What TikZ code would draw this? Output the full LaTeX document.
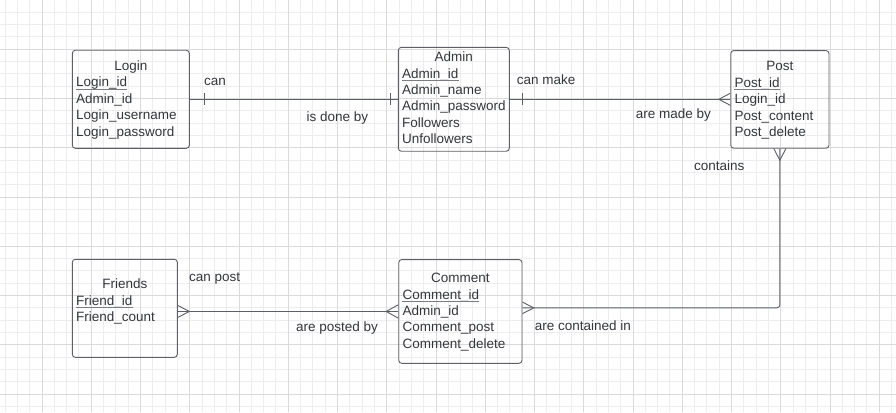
\documentclass[tikz,border=0pt]{standalone}
\usepackage{fontspec}
\setmainfont{Liberation Sans}
\usetikzlibrary{calc}
\definecolor{minorc}{HTML}{EDEDED}
\definecolor{majorc}{HTML}{DADADA}
\definecolor{boxc}{HTML}{5E6066}
\definecolor{linec}{HTML}{5B5F66}
\definecolor{txtc}{HTML}{33363B}
\definecolor{ulc}{HTML}{7A7D82}
\newcommand\ft{\fontsize{13.5}{16}\selectfont}
\tikzset{
  minorg/.style={draw=minorc, line width=1pt},
  majorg/.style={draw=majorc, line width=1pt},
  ent/.style={draw=boxc, line width=0.9pt, rounded corners=3pt, inner sep=0pt, fill=none},
  ttl/.style={anchor=base, inner sep=0pt, text=txtc, font=\ft},
  att/.style={anchor=base west, inner sep=0pt, text=txtc, font=\ft},
  lbl/.style={anchor=base west, inner sep=0pt, text=txtc, font=\ft},
  rel/.style={draw=linec, line width=0.9pt},
  ulin/.style={draw=ulc, line width=1pt},
}
\begin{document}
\begin{tikzpicture}[x=1pt,y=-1pt]
\useasboundingbox (0,0) rectangle (896,412);
\fill[white] (0,0) rectangle (896,412);
% grid
\foreach \i in {0,...,73} { \draw[minorg] ({-7.25+\i*12.3125},0) -- ++(0,412); }
\foreach \i in {0,...,33} { \draw[minorg] (0,{\i*12.3125}) -- ++(896,0); }
\foreach \i in {0,...,18} { \draw[majorg] ({-7.25+\i*49.25},0) -- ++(0,412); }
\foreach \i in {0,...,8} { \draw[majorg] (0,{\i*49.25}) -- ++(896,0); }

% entity boxes
\node[ent, minimum width=117pt, minimum height=98pt] (login) at (130.8,99.3) {};
\node[ent, minimum width=111pt, minimum height=103.8pt] (admin) at (453.8,99.3) {};
\node[ent, minimum width=98.3pt, minimum height=97.6pt] (post) at (779.85,99.4) {};
\node[ent, minimum width=105pt, minimum height=98pt] (friends) at (124.8,308.3) {};
\node[ent, minimum width=123.3pt, minimum height=103.7pt] (comment) at (460.35,311.45) {};

% Login
\node[ttl] (loginT) at (130.8,70.4) {Login};
\foreach \t [count=\k] in {Login\_id, Admin\_id, Login\_username, Login\_password}
  \node[att] (loginA\k) at (76,{70.4+16.4*\k}) {\t};
% Admin
\node[ttl] (adminT) at (453.8,61.6) {Admin};
\foreach \t [count=\k] in {Admin\_id, Admin\_name, Admin\_password, Followers, Unfollowers}
  \node[att] (adminA\k) at (402,{61.6+16.4*\k}) {\t};
% Post
\node[ttl] (postT) at (779.85,70.8) {Post};
\foreach \t [count=\k] in {Post\_id, Login\_id, Post\_content, Post\_delete}
  \node[att] (postA\k) at (734.3,{70.8+16.4*\k}) {\t};
% Friends
\node[ttl] (friendsT) at (124.8,288.6) {Friends};
\foreach \t [count=\k] in {Friend\_id, Friend\_count}
  \node[att] (friendsA\k) at (76,{288.6+16.4*\k}) {\t};
% Comment
\node[ttl] (commentT) at (460.35,282.6) {Comment};
\foreach \t [count=\k] in {Comment\_id, Admin\_id, Comment\_post, Comment\_delete}
  \node[att] (commentA\k) at (402.3,{282.6+16.4*\k}) {\t};

% primary key underlines
\foreach \n in {loginA1, adminA1, postA1, friendsA1, commentA1}
  \draw[ulin] ([yshift=-2.5pt]\n.base west) -- ([yshift=-2.5pt]\n.base east);

% relationship labels
\node[lbl] (lCan) at (204,85) {can};
\node[lbl] (lDone) at (306.5,121.7) {is done by};
\node[lbl] (lMake) at (516.7,84.3) {can make};
\node[lbl] (lMade) at (635.7,118.7) {are made by};
\node[lbl] (lCont) at (694,170.7) {contains};
\node[lbl] (lContIn) at (534.7,330) {are contained in};
\node[lbl] (lPost) at (189,281.7) {can post};
\node[lbl] (lPosted) at (296,331) {are posted by};

% Login -- Admin (one to one)
\draw[rel] (login.east) -- (login.east -| admin.west);
\draw[rel] ($(login.east)+(15,-6)$) -- ++(0,12);
\draw[rel] ($(login.east -| admin.west)+(-7.6,-6)$) -- ++(0,12);

% Admin -- Post (one to many)
\coordinate (pw) at (admin.east -| post.west);
\draw[rel] (admin.east) -- (pw);
\draw[rel] ($(admin.east)+(13,-6)$) -- ++(0,12);
\draw[rel] ($(pw)+(0,-6)$) -- ($(pw)+(-11.4,0)$) -- ($(pw)+(0,6)$);

% Post -- Comment (many to many)
\coordinate (ce) at ($(comment.east)+(0,-3.6)$);
\draw[rel, rounded corners=3pt] (post.south) |- (ce);
\draw[rel] ($(post.south)+(-6,0)$) -- ($(post.south)+(0,11.7)$) -- ($(post.south)+(6,0)$);
\draw[rel] ($(ce)+(0,-5.8)$) -- ($(ce)+(11.3,0)$) -- ($(ce)+(0,5.8)$);

% Friends -- Comment (many to many)
\coordinate (fe) at (comment.west -| friends.east);
\draw[rel] (fe) -- (comment.west);
\draw[rel] ($(fe)+(0,-6)$) -- ($(fe)+(11.7,0)$) -- ($(fe)+(0,6)$);
\draw[rel] ($(comment.west)+(0,-6.7)$) -- ($(comment.west)+(-12,0)$) -- ($(comment.west)+(0,6.7)$);
\end{tikzpicture}
\end{document}
